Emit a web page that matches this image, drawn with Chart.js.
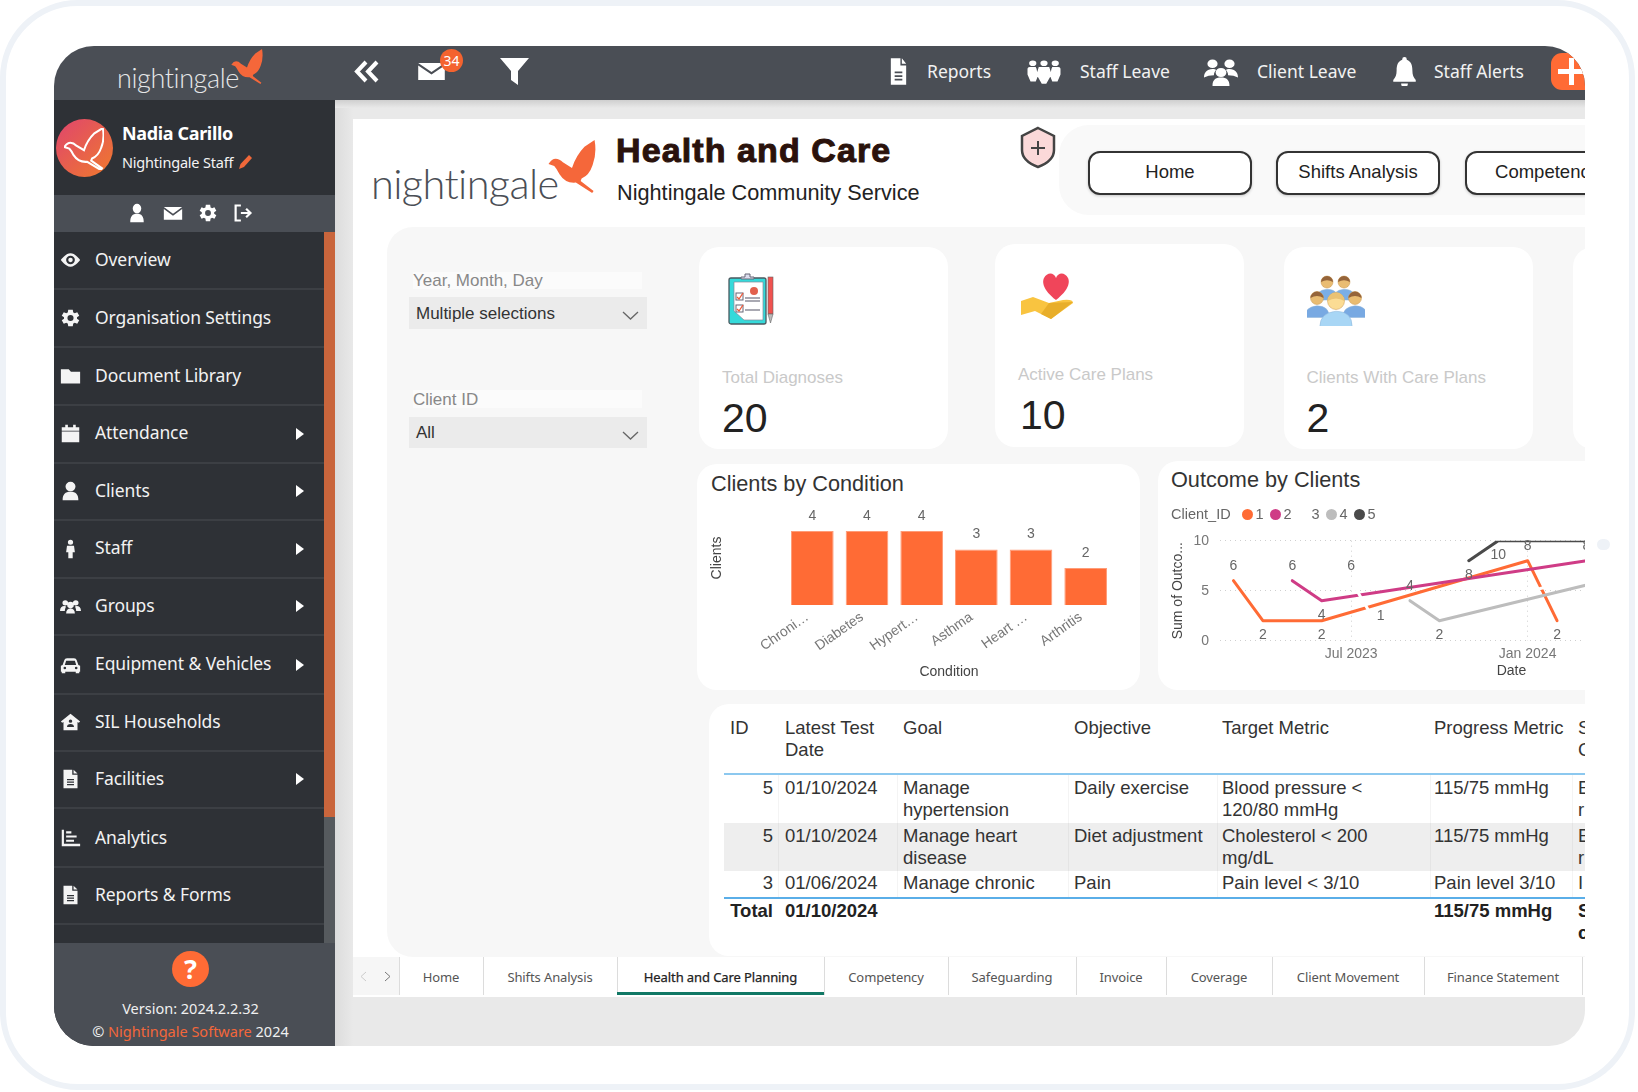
<!DOCTYPE html>
<html><head><meta charset="utf-8"><title>Health and Care</title>
<script src="https://cdn.jsdelivr.net/npm/chart.js@4"></script>
<style>
*{box-sizing:border-box}
html,body{margin:0;padding:0;background:#fff;overflow:hidden;width:1638px;height:1092px;font-family:"Liberation Sans",Arial,sans-serif}
.a{position:absolute}
.t{position:absolute;white-space:nowrap;line-height:1;transform:translateY(-50%)}
.ui{font-family:"Noto Sans",sans-serif}
canvas{display:block}
</style></head><body>
<div id="frame" class="a" style="left:0;top:0;width:1635px;height:1090px;border:6px solid #eef2f7;border-radius:78px;background:#fff"></div>
<div class="a" style="left:1597px;top:539px;width:13px;height:11px;border-radius:6px;background:#eef2f7"></div>
<div id="app" class="a" style="left:54px;top:46px;width:1531px;height:1000px;border-radius:40px 40px 36px 40px;overflow:hidden;background:#e9e9e9">
<div id="root" class="a" style="left:-54px;top:-46px;width:1638px;height:1092px"></div>
</div>
<script>
// ---------- chart data ----------
const conditions = ['Chroni…','Diabetes','Hypert…','Asthma','Heart …','Arthritis'];
const clientsByCondition = [4,4,4,3,3,2];
const months = ['Mar 2023','Apr 2023','May 2023','Jun 2023','Jul 2023','Aug 2023','Sep 2023','Oct 2023','Nov 2023','Dec 2023','Jan 2024','Feb 2024','Mar 2024','Apr 2024','May 2024'];
const client1 = [6,2,null,2,null,null,null,null,null,null,8,2,null,null,null];
const client2 = [null,null,6,4,null,null,null,null,null,null,null,null,8,2,null];
const client3 = [null,null,null,null,6,1,null,null,null,null,null,null,null,null,8];
const client4 = [null,null,null,null,null,null,4,2,null,null,null,null,null,null,7];
const client5 = [null,null,null,null,null,null,null,null,8,10,null,null,null,null,10];
const clientIds = ['1','2','3','4','5'];
const axisMonths = ['Jul 2023','Jan 2024'];
// which value labels sit under their point (client, month)
const labelsBelow = [[0,1],[0,3],[0,11],[1,3],[1,13],[3,7],[4,8],[4,9]];
const clientColours = ['#ff6b35','#cf3c86','#ffffff','#bdbdbd','#4a4a4a'];
// ---------- page text ----------
const menu = [['Overview','eye',0],['Organisation Settings','gear',0],['Document Library','folder',0],['Attendance','cal',1],['Clients','user',1],['Staff','staff',1],['Groups','group',1],['Equipment & Vehicles','car',1],['SIL Households','house',0],['Facilities','file',1],['Analytics','chart',0],['Reports & Forms','file',0]];
const menuY = [260,318,376,433.5,491,548.5,606,664.5,722,779,838,895];
const tabs = [['Home',399,483],['Shifts Analysis',483,617],['Health and Care Planning',617,824],['Competency',824,948],['Safeguarding',948,1076],['Invoice',1076,1166],['Coverage',1166,1272],['Client Movement',1272,1424],['Finance Statement',1424,1582]];

const root = document.getElementById('root');
function add(html){root.insertAdjacentHTML('beforeend',html)}
function box(x,y,w,h,st){add(`<div class="a" style="left:${x}px;top:${y}px;width:${w}px;height:${h}px;${st||''}"></div>`)}
function txt(x,y,s,st,cls){add(`<div class="t ${cls||''}" style="left:${x}px;top:${y}px;${st||''}">${s}</div>`)}
function svg(x,y,w,h,vb,inner,st){add(`<svg class="a" style="left:${x}px;top:${y}px;${st||''}" width="${w}" height="${h}" viewBox="${vb}" preserveAspectRatio="none">${inner}</svg>`)}
const P = {
 eye:'<path fill-rule="evenodd" fill="currentColor" d="M12 4C6 4 1 12 1 12s5 8 11 8 11-8 11-8-5-8-11-8zm0 13a5 5 0 110-10 5 5 0 010 10z"/><circle cx="12" cy="12" r="2.6" fill="currentColor"/>',
 gear:'<path fill-rule="evenodd" fill="currentColor" d="M19.4 13a7.5 7.5 0 000-2l2.6-1.8-2.3-4-2.9 1.2a7.5 7.5 0 00-1.7-1L14.6 2h-5.2l-.5 3.4a7.5 7.5 0 00-1.7 1L4.300 5.200 2 9.200 4.600 11a7.500 7.500 0 000 2L2 14.800l2.300 4 2.900-1.200a7.500 7.500 0 001.700 1l.5 3.400h5.200l.5-3.400a7.500 7.500 0 001.700-1l2.900 1.200 2.300-4zM12 15.500a3.500 3.500 0 110-7 3.500 3.500 0 010 7z"/>',
 folder:'<path fill="currentColor" d="M1 4h9l2.500 3H23v14H1z"/>',
 cal:'<path fill="currentColor" d="M2 9h20v13H2zM2 4h4V1h3v3h6V1h3v3h4v4H2z"/>',
 user:'<path fill="currentColor" d="M12 1a5.700 5.700 0 110 11.400A5.700 5.700 0 0112 1zM3 23c0-7 3-10 9-10s9 3 9 10z"/>',
 staff:'<path fill="currentColor" d="M12 1a3 3 0 110 6 3 3 0 010-6zM8 8h8l1 8h-2.500v7h-5v-7H7z"/>',
 group:'<path fill="currentColor" d="M6 5a3.200 3.200 0 110 6.400A3.200 3.200 0 016 5zM18 5a3.200 3.200 0 110 6.400A3.200 3.200 0 0118 5zM12 7a3.800 3.800 0 110 7.600A3.800 3.800 0 0112 7zM0 18c0-4 2-6 5-6 1 0 1.500.3 2 .8C6 14 5.600 16 5.500 18zM24 18c0-4-2-6-5-6-1 0-1.500.3-2 .8 1 1.200 1.400 3.200 1.500 5.200zM7 21c0-4 2-6 5-6s5 2 5 6z"/>',
 trio:'<path fill="currentColor" d="M4.500 3a2.400 2.400 0 110 4.800 2.400 2.400 0 010-4.800zM12 3a2.400 2.400 0 110 4.800A2.400 2.400 0 0112 3zM19.500 3a2.400 2.400 0 110 4.800 2.400 2.400 0 010-4.800zM1 10q0-1.500 1.500-1.500h4L7 10l1 6-1.500 5H3l-2-6zM8.500 8.500h7L17 15l-3.500 8h-3L7 15zM17.500 8.500h4Q23 8.500 23 10v5l-2 6h-3.500L16 16l1-6z"/>',
 clients:'<path fill="currentColor" d="M6 2a3.600 3.600 0 110 7.200A3.600 3.600 0 016 2zM18 2a3.600 3.600 0 110 7.200A3.600 3.600 0 0118 2zM12 9a3.800 3.800 0 110 7.600A3.800 3.800 0 0112 9zM0 17c0-4 2-7 6-7 1.500 0 2 .3 2.500.8C7.500 12 7 13.500 7 15q-4 0-7 2zM24 17c0-4-2-7-6-7-1.500 0-2 .3-2.500.8 1 1.200 1.500 2.700 1.500 4.200q4 0 7 2zM6 24c0-5 2-7 6-7s6 2 6 7z"/>',
 file2:'',
 file:'<path fill-rule="evenodd" fill="currentColor" d="M4 1h10v6h6v16H4zM15.500 1l4.500 4.500h-4.500zM8 12v1.500h8V12zm0 3v1.500h8V15zm0 3v1.500h8V18z"/>',
 car:'<path fill-rule="evenodd" fill="currentColor" d="M1 13l2-1 2-6q.5-2 3-2h8q2.500 0 3 2l2 6 2 1v7h-1v2h-4v-2H6v2H2v-2H1zM7 7l-1.500 5h13L17 7zM5.500 14a1.500 1.500 0 100 3 1.500 1.500 0 000-3zm13 0a1.500 1.500 0 100 3 1.500 1.500 0 000-3z"/>',
 house:'<path fill-rule="evenodd" fill="currentColor" d="M12 2l11 9.500-1.500 1.500L20 12v10H4V12l-1.500 1L1 11.500zM12 9a2 2 0 100 4 2 2 0 000-4zm-4 9h8c0-2-1.500-3.500-4-3.500S8 16 8 18z"/>',
 chart:'<path fill="currentColor" d="M2 2h2.500v17H23v3H2zM7 4h6v2.500H7zM7 9h12v2.500H7zM7 14h9v2.500H7z"/>',
 mail:'<path fill="currentColor" d="M1 4h22L12 13zM1 6.500l11 9 11-9V21H1z"/>',
 out:'<path fill="none" stroke="currentColor" stroke-width="2.500" d="M9 3H3v18h6M9 12h11M15 7l5 5-5 5"/>',
 bell:'<path fill="currentColor" d="M12 0a2 2 0 012 2.200C18 3.500 19 7 19 11c0 4 1 6 3 8v1.500H2V19c2-2 3-4 3-8 0-4 1-7.500 5-8.800A2 2 0 0112 0zM9 22h6a3 3 0 01-6 0z"/>'
};
function icon(name,x,y,w,h,col){svg(x,y,w,h,'0 0 24 24',P[name],`color:${col||'#fff'}`)}
const BIRD='M1 46 Q8 36 16 36 Q24 36 31 43 L50 54 Q58 30 76 13 L97 0 Q102 26 93 48 Q86 68 70 74 L68 79 L95 98 L92 102 L58 82 Q36 84 24 66 Q18 55 13 50 Z';
function bird(x,y,w,h,col){svg(x,y,w,h,'0 0 100 102',`<path d="${BIRD}" fill="${col}"/>`)}

// top bar
box(54,46,1531,54,'background:#4a4e55');
txt(117,77,'nightingale','font-size:27px;color:#e6e7e8;font-weight:300;letter-spacing:-.4px;font-family:Lato,sans-serif');
bird(231,49,32,35,'#f5673a');
svg(354,60,25,23,'0 0 25 23','<path fill="none" stroke="#fff" stroke-width="4" d="M12 2L3 11.500 12 21M23 2l-9 9.500 9 9.500"/>');
svg(417,59,29,24,'0 0 24 24',P.mail,'color:#fff');
add(`<div class="a" style="left:440px;top:49px;width:23px;height:23px;border-radius:50%;background:#f4632f;color:#fff;font:14px/23px 'Noto Sans';text-align:center">34</div>`);
svg(500,58,29,27,'0 0 29 27','<path fill="#fff" d="M0 0h29L18 13v14l-7-5V13z"/>');
const topItems=[['Reports','file',887,57,23,29,927],['Staff Leave','trio',1026,57,36,28,1080],['Client Leave','clients',1204,57,34,29,1257],['Staff Alerts','bell',1391,57,27,29,1434]];
topItems.forEach(i=>{icon(i[1],i[2],i[3],i[4],i[5]);txt(i[6],72,i[0],'font-size:17.5px;color:#f2f2f2','ui')});
box(1551,53,50,37,'background:#ff6b35;border-radius:11px');
svg(1558,58,27,27,'0 0 27 27','<path fill="#fff" d="M11 0h5v11h11v5H16v11h-5V16H0v-5h11z"/>');

// sidebar
box(54,100,281,946,'background:#2e3136');
add(`<div class="a" style="left:56px;top:119px;width:57px;height:58px;border-radius:50%;background:linear-gradient(135deg,#e0456e,#ef7a2c)"></div>`);
svg(64,128,40,42,'0 0 100 102',`<path d="${BIRD}" fill="none" stroke="#fff" stroke-width="5"/>`);
txt(122,133,'Nadia Carillo','font-size:18px;font-weight:700;color:#fff;letter-spacing:-.35px','ui');
txt(122,162,'Nightingale Staff','font-size:14.500px;color:#f4f4f4;letter-spacing:-.2px','ui');
svg(239,155,13,14,'0 0 13 14','<path fill="#f0683a" d="M10 0l3 3-8 9-5 2 1.500-5z"/>');
box(54,195,281,37,'background:#4a4e55');
icon('user',128,203,18,20);icon('mail',163,204,20,18);icon('gear',198,203,20,20);icon('out',233,203,21,20);
menu.forEach((m,i)=>{const y=menuY[i];
 icon(m[1],60,y-10,21,20,'#f4f4f4');
 txt(95,y-.5,m[0],'font-size:17.5px;color:#f2f2f2;letter-spacing:-.1px','ui');
 if(m[2]) svg(296,y-6,8,12,'0 0 8 12','<path fill="#fff" d="M0 0l8 6-8 6z"/>');
 box(54,y+28,270,2,'background:#3c3f44');
});
box(324,232,11,585,'background:#c9653c');
box(324,817,11,126,'background:#565a5e');
box(54,943,281,103,'background:#4a4e55');
add(`<div class="a" style="left:172px;top:951px;width:37px;height:36px;border-radius:50%;background:#ff6b35;color:#fff;font:700 27px/36px 'Noto Sans';text-align:center">?</div>`);
add(`<div class="t ui" style="left:50px;width:281px;text-align:center;top:1008px;font-size:14.500px;color:#f0f0f0">Version: 2024.2.2.32</div>`);
add(`<div class="t ui" style="left:50px;width:281px;text-align:center;top:1031px;font-size:14.500px;color:#f0f0f0">© <span style="color:#f4673a">Nightingale Software</span> 2024</div>`);

// report canvas
box(335,100,18,946,'background:linear-gradient(90deg,#dcdcdc,#e9e9e9)');
box(335,100,1250,8,'background:linear-gradient(180deg,#cfcfcf,#e9e9e9)');
box(353,119,1232,878,'background:#fff');
txt(371,184,'nightingale','font-size:41.500px;color:#4a4e55;font-weight:300;letter-spacing:-.6px;font-family:Lato,sans-serif');
bird(548,140,48,53,'#f5673a');
txt(616,150,'Health and Care','font-size:34px;font-weight:700;color:#2a120c;-webkit-text-stroke:1px #2a120c;letter-spacing:1.1px');
txt(617,193,'Nightingale Community Service','font-size:21.700px;color:#222');
svg(1020,126,36,43,'0 0 36 43','<path d="M18 2l16 8v14q0 11-16 17Q2 35 2 24V10z" fill="#fbd9d9" stroke="#444" stroke-width="2.500"/><path d="M17 15h2v6h6v2h-6v6h-2v-6h-6v-2h6z" fill="#444"/>');
box(1059,125,560,90,'background:#f9f9f9;border-radius:30px');
[['Home',1088,164],['Shifts Analysis',1276,164],['Competency',1465,164]].forEach(b=>{
 add(`<div class="a" style="left:${b[1]}px;top:151px;width:${b[2]}px;height:44px;border:2.500px solid #333;border-radius:12px;background:#fff;text-align:center;font-size:18.500px;line-height:38px;color:#222;box-shadow:0 1px 3px #0003">${b[0]}</div>`)});

// main panel
box(387,227,1240,730,'background:#f7f7f7;border-radius:26px');
// filters
box(413,272,229,17,'background:#fbfbfb');txt(413,280,'Year, Month, Day','font-size:17px;color:#888');
box(408.500,297,238,32,'background:#ebebeb');txt(416,313,'Multiple selections','font-size:17px;color:#333');
box(413,390,229,18,'background:#fbfbfb');txt(413,399,'Client ID','font-size:17px;color:#888');
box(408.500,417,238,31,'background:#ebebeb');txt(416,432,'All','font-size:17px;color:#333');
[314,434].forEach(y=>svg(622,y-3,17,9,'0 0 17 9','<path fill="none" stroke="#666" stroke-width="1.300" d="M1 1l7.500 7L16 1"/>'));
// KPI cards
const kpis=[['Total Diagnoses','20',699,247,249,202,722,377,722,418],['Active Care Plans','10',995,244,249,203,1018,374,1020,415],['Clients With Care Plans','2',1283.500,247,249,202,1306.500,377,1306.500,418]];
kpis.forEach(k=>{box(k[2],k[3],k[4],k[5],'background:#fff;border-radius:20px');
 txt(k[6],k[7],k[0],'font-size:17px;color:#c9c9c9');
 txt(k[8],k[9],k[1],'font-size:41px;color:#222')});
box(1573,247,60,202,'background:#fff;border-radius:20px');
svg(728,273,47,52,'0 0 47 52',`<rect x="1" y="5" width="37" height="46" rx="2" fill="#35dada" stroke="#4a5a60" stroke-width="1.300"/><path d="M6 9h29v38H16L6 38z" fill="#fff" stroke="#889" stroke-width=".7"/><path d="M13 6h13v-2h-4v-3h-5v3h-4z" fill="#dde" stroke="#667"/><circle cx="26" cy="18" r="4" fill="#e2604d"/><rect x="8" y="20" width="7" height="7" fill="#fff" stroke="#667"/><rect x="8" y="32" width="7" height="7" fill="#fff" stroke="#667"/><path d="M9 24l2 2 4-6M9 36l2 2 4-6" stroke="#ef5a3a" fill="none" stroke-width="1.300"/><path d="M17 25h15M17 28h15M17 37h15" stroke="#556" stroke-width="1.200"/><rect x="40" y="4" width="5" height="37" fill="#f0524f" stroke="#666" stroke-width=".6"/><path d="M40 41h5l-2.500 9z" fill="#bbb" stroke="#666" stroke-width=".6"/>`);
svg(1021,272,53,48,'0 0 53 48',`<path d="M35 28C22 18 21 10 23 6c3-6 10-6 12 0 2-6 9-6 12 0 2 4 1 12-12 22z" fill="#f0455a"/><path d="M0 29l12-4 16 6 14-3q10-1 10 3l-22 16-16-8-14 4z" fill="#f9c440"/><path d="M28 31l24-1-22 17-10-5z" fill="#e8ae2a"/>`);
svg(1306.500,274,58,52,'0 0 58 52',(()=>{const f=(cx,cy,r,sh,sk,hr)=>`<path d="M${cx-r*1.900} ${cy+r*3}q0-${r*1.600} ${r*1.900}-${r*1.800}q${r*1.900} .2 ${r*1.900} ${r*1.800}z" fill="${sh}" stroke="#8fb4d8" stroke-width=".5"/><circle cx="${cx}" cy="${cy}" r="${r}" fill="${sk}" stroke="#c8964f" stroke-width=".5"/><path d="M${cx-r} ${cy}a${r} ${r} 0 0 1 ${2*r} 0q-${r} -${r*.6} -${2*r} 0z" fill="${hr}"/>`;
 return f(20,8,6,'#7aaee6','#e9bc72','#95643a')+f(37,8,6,'#7aaee6','#e9bc72','#95643a')+f(10,24,6.500,'#78a9e2','#e9bc72','#95643a')+f(48,24,6.500,'#78a9e2','#e9bc72','#95643a')+f(29,27,8.500,'#a8d6f5','#fbdc94','#e9c274')})());

// chart cards
box(697,464,443,226,'background:#fff;border-radius:20px');
txt(711,484,'Clients by Condition','font-size:21.700px;color:#333');
box(1158,461,500,229,'background:#fff;border-radius:20px');
txt(1171,480,'Outcome by Clients','font-size:21.700px;color:#333');
add('<div class="a" style="left:697px;top:464px;width:443px;height:226px"><canvas id="barChart" width="443" height="226"></canvas></div>');
add('<div class="a" style="left:1158px;top:461px;width:645px;height:229px"><canvas id="lineChart" width="645" height="229"></canvas></div>');
txt(1171,514,'Client_ID','font-size:14.500px;color:#666');
clientIds.forEach((id,i)=>{const cx=1247.500+28*i;
 add(`<div class="a" style="left:${cx-5.500}px;top:508.500px;width:11px;height:11px;border-radius:50%;background:${clientColours[i]}"></div>`);
 txt(cx+8,514,id,'font-size:14.500px;color:#666');
});

// table
box(709,704,930,252,'background:#fff;border-radius:20px');
box(724,823,861,48,'background:#eeeeee');
const colX=[778,897,1068,1217,1430,1572];
colX.forEach(x=>{box(x,775,1,123,'background:#f4f4f4');box(x,823,1,48,'background:#e4e4e4')});
box(724,773,861,2,'background:#8cc8ef');
box(724,897,861,2,'background:#5aaee8');
const F='font-size:18.500px;color:#333';
[[730,728,'ID'],[785,728,'Latest Test'],[785,750,'Date'],[903,728,'Goal'],[1074,728,'Objective'],[1222,728,'Target Metric'],[1434,728,'Progress Metric'],[1578,728,'S'],[1578,750,'C'],
 [785,787.500,'01/10/2024'],[903,787.500,'Manage'],[903,809.500,'hypertension'],[1074,787.500,'Daily exercise'],[1222,787.500,'Blood pressure &lt;'],[1222,809.500,'120/80 mmHg'],[1434,787.500,'115/75 mmHg'],[1578,787.500,'E'],[1578,809.500,'r'],
 [785,835.500,'01/10/2024'],[903,835.500,'Manage heart'],[903,857.500,'disease'],[1074,835.500,'Diet adjustment'],[1222,835.500,'Cholesterol &lt; 200'],[1222,857.500,'mg/dL'],[1434,835.500,'115/75 mmHg'],[1578,835.500,'E'],[1578,857.500,'r'],
 [785,882.500,'01/06/2024'],[903,882.500,'Manage chronic'],[1074,882.500,'Pain'],[1222,882.500,'Pain level &lt; 3/10'],[1434,882.500,'Pain level 3/10'],[1578,882.500,'I']
].forEach(c=>txt(c[0],c[1],c[2],F));
[[787.500,'5'],[835.500,'5'],[882.500,'3']].forEach(r=>add(`<div class="t" style="left:724px;width:49px;text-align:right;top:${r[0]}px;${F}">${r[1]}</div>`));
add(`<div class="t" style="left:724px;width:49px;text-align:right;top:910.500px;font-size:18.500px;font-weight:700;color:#222">Total</div>`);
[[785,910.500,'01/10/2024'],[1434,910.500,'115/75 mmHg'],[1578,910.500,'S'],[1578,932.500,'c']].forEach(c=>txt(c[0],c[1],c[2],'font-size:18.500px;font-weight:700;color:#222'));

// tabs
box(353,957,1232,38,'background:#fff');
box(353,957,46,38,'background:#f6f6f6');
svg(360,971,7,11,'0 0 7 11','<path fill="none" stroke="#ccc" d="M6 1L1 5.500 6 10"/>');
svg(384,971,7,11,'0 0 7 11','<path fill="none" stroke="#777" d="M1 1l5 4.500L1 10"/>');
tabs.forEach((t,i)=>{box(t[1],957,1,38,'background:#dcdcdc');
 const act=i===2;
 add(`<div class="t ui" style="left:${t[1]}px;width:${t[2]-t[1]}px;text-align:center;top:977px;font-size:13px;letter-spacing:-.1px;color:${act?'#222':'#555'};${act?'-webkit-text-stroke:.25px #222':''}">${t[0]}</div>`);
 if(act) box(t[1],992,t[2]-t[1],3,'background:#117865');
});
box(1582,957,1,38,'background:#dcdcdc');

// ---------- charts ----------
Chart.defaults.font.family='"Liberation Sans",Arial,sans-serif';
Chart.defaults.animation=false;
const valueLabels={id:'valueLabels',afterDatasetsDraw(c){
 const ctx=c.ctx;ctx.save();ctx.font='14px "Liberation Sans"';ctx.fillStyle='#666';ctx.textAlign='center';ctx.textBaseline='middle';
 c.data.datasets.forEach((d,di)=>{c.getDatasetMeta(di).data.forEach((el,i)=>{
  const v=d.data[i];const val=typeof v==='object'?v.y:v;const idx=typeof v==='object'?v.x:i;
  const below=c.config.type==='line'&&labelsBelow.some(p=>p[0]===di&&p[1]===idx);
  ctx.fillText(val,el.x,el.y+(below?14.500:-15));
 })});ctx.restore();}};
new Chart(document.getElementById('barChart'),{type:'bar',plugins:[valueLabels],
 data:{labels:conditions,datasets:[{data:clientsByCondition,backgroundColor:'#ff6b35',borderColor:'#ff9c78',borderWidth:1,categoryPercentage:1,barPercentage:.78}]},
 options:{responsive:false,layout:{padding:{top:47,right:27}},plugins:{legend:{display:false},tooltip:{enabled:false}},
 scales:{
  x:{afterFit(s){s.height=85},grid:{display:false},border:{display:false},
   ticks:{color:'#777',font:{size:14},minRotation:35,maxRotation:35,padding:-4,labelOffset:-5,autoSkip:false},
   title:{display:true,text:'Condition',color:'#444',font:{size:14},padding:{top:0,bottom:9}}},
  y:{min:0,max:5.08,afterFit(s){s.width=88},grid:{display:false},border:{display:false},ticks:{display:false},
   title:{display:true,text:'Clients',color:'#444',font:{size:14},padding:{top:12,bottom:0}}}
 }}});
const series=[client1,client2,client3,client4,client5];
new Chart(document.getElementById('lineChart'),{type:'line',plugins:[valueLabels],
 data:{datasets:series.map((s,i)=>({label:clientIds[i],
   data:s.map((v,x)=>({x,y:v})).filter(p=>p.y!==null),
   borderColor:clientColours[i],borderWidth:3,pointRadius:0,tension:0,borderCapStyle:'round',borderJoinStyle:'round',order:5-i}))},
 options:{responsive:false,layout:{padding:{top:79.700}},plugins:{legend:{display:false},tooltip:{enabled:false}},
 scales:{
  x:{type:'linear',min:-0.457,max:19.360,afterFit(s){s.height=49.300},
   afterBuildTicks(s){s.ticks=axisMonths.map(m=>({value:months.indexOf(m)}))},
   grid:{color:'#cfcfcf',lineWidth:1,drawTicks:false},border:{display:false,dash:[1,4]},
   ticks:{color:'#777',font:{size:14},padding:5,maxRotation:0,autoSkip:false,callback:v=>months[v]},
   title:{display:true,text:'Date',color:'#444',font:{size:14},padding:{top:0,bottom:10}}},
  y:{min:0,max:10,afterFit(s){s.width=62},
   afterBuildTicks(s){s.ticks=[0,5,10].map(value=>({value}))},
   grid:{color:'#cfcfcf',lineWidth:1,drawTicks:false},border:{display:false,dash:[1,4]},
   ticks:{color:'#777',font:{size:14},padding:11},
   title:{display:true,text:'Sum of Outco...',color:'#444',font:{size:14},padding:{top:12,bottom:0}}}
 }}});
</script>
</body></html>
